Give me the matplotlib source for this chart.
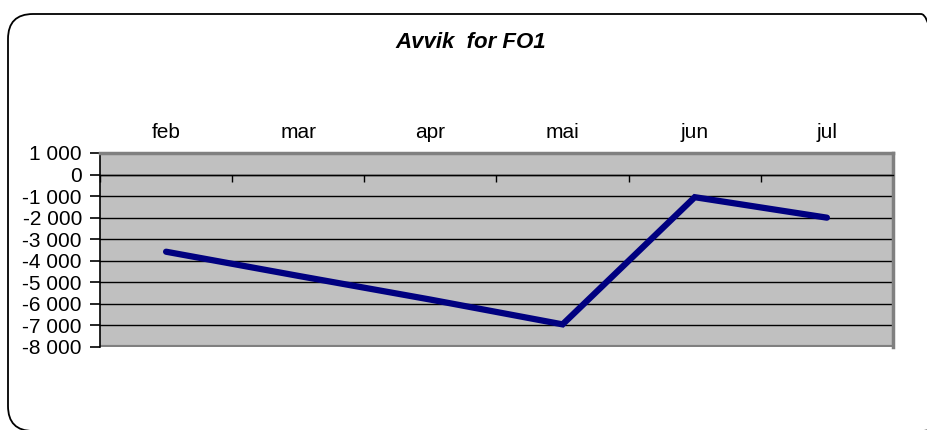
import matplotlib
matplotlib.use("Agg")
import matplotlib.pyplot as plt
from matplotlib.patches import FancyBboxPatch
from matplotlib.ticker import FixedLocator, FuncFormatter
from matplotlib.transforms import IdentityTransform

plt.rcParams['font.family'] = ['Liberation Sans', 'DejaVu Sans']

months = ["feb", "mar", "apr", "mai", "jun", "jul"]
values = [-3580, -4700, -5800, -6950, -1050, -2000]
yticks = list(range(-8000, 1001, 1000))
title = "Avvik  for FO1"

W, H = 927, 430
fig = plt.figure(figsize=(W / 100, H / 100), dpi=100)

# rounded outer frame (pixel coordinates)
frame = FancyBboxPatch((8, -1), 946 - 8, (H - 14) + 1,
                       boxstyle="round,pad=0,rounding_size=25",
                       transform=IdentityTransform(), facecolor="none",
                       edgecolor="black", linewidth=1.3, zorder=-1)
fig.patches.append(frame)

left, right, top, bottom = 100, 893, 153, 347
ax = fig.add_axes([left / W, (H - bottom) / H, (right - left) / W, (bottom - top) / H])
ax.set_facecolor("#C0C0C0")

x = list(range(len(months)))
ax.set_xlim(-0.5, len(months) - 0.5)
ax.set_ylim(-8000, 1000)

for yv in yticks:
    ax.axhline(yv, color="black", linewidth=1.0, zorder=1)

ax.plot(x, values, color="#000080", linewidth=4.5, solid_capstyle="round",
        solid_joinstyle="miter", zorder=3)

# spines
for s in ["top", "right"]:
    ax.spines[s].set_color("#808080")
    ax.spines[s].set_linewidth(2.5)
ax.spines["left"].set_color("black")
ax.spines["left"].set_linewidth(1.2)
ax.spines["bottom"].set_position(("data", 0))
ax.spines["bottom"].set_color("black")
ax.spines["bottom"].set_linewidth(1.0)

# bottom gray border
ax.axhline(-8000, color="#808080", linewidth=3, zorder=2)

ax.set_yticks(yticks)
ax.yaxis.set_major_formatter(FuncFormatter(
    lambda v, p: ("-" if v < 0 else "") + f"{abs(int(v)):,}".replace(",", " ")))
ax.tick_params(axis="y", direction="out", length=7, width=1.2, pad=6,
               labelsize=15, colors="black")

ax.set_xticks(x)
ax.set_xticklabels(months)
ax.xaxis.set_minor_locator(FixedLocator([i + 0.5 for i in range(-1, len(months))]))
ax.tick_params(axis="x", which="major", bottom=False, labelbottom=False,
               top=True, labeltop=True, length=0, pad=8, labelsize=15)
ax.tick_params(axis="x", which="minor", bottom=True, top=False,
               direction="out", length=5, width=1.0)

fig.text(471 / W, 1 - 42 / H, title, ha="center", va="center",
         fontsize=16, fontweight="bold", fontstyle="italic")

fig.savefig("out.png", dpi=100)
